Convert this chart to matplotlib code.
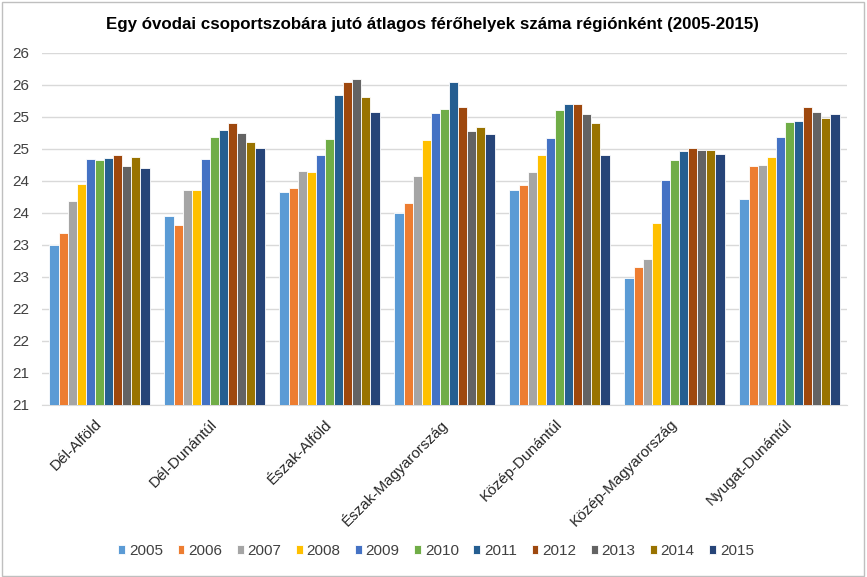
import numpy as np
import matplotlib
matplotlib.use("Agg")
import matplotlib.pyplot as plt
from matplotlib.patches import Rectangle

plt.rcParams['font.family'] = ['Liberation Sans', 'DejaVu Sans']

# Data
regions = ['Dél-Alföld', 'Dél-Dunántúl', 'Észak-Alföld', 'Észak-Magyarország',
           'Közép-Dunántúl', 'Közép-Magyarország', 'Nyugat-Dunántúl']
years = ['2005', '2006', '2007', '2008', '2009', '2010',
         '2011', '2012', '2013', '2014', '2015']

# one row per region, one column per year
values = [
    [23.00, 23.19, 23.68, 23.95, 24.34, 24.32, 24.35, 24.41, 24.23, 24.38, 24.20],
    [23.45, 23.31, 23.85, 23.85, 24.34, 24.68, 24.79, 24.91, 24.75, 24.61, 24.52],
    [23.83, 23.89, 24.16, 24.14, 24.41, 24.65, 25.35, 25.55, 25.59, 25.31, 25.08],
    [23.49, 23.65, 24.07, 24.64, 25.06, 25.12, 25.54, 25.16, 24.78, 24.84, 24.74],
    [23.85, 23.94, 24.14, 24.40, 24.67, 25.11, 25.20, 25.20, 25.05, 24.91, 24.40],
    [22.48, 22.65, 22.78, 23.34, 24.02, 24.33, 24.46, 24.52, 24.49, 24.48, 24.42],
    [23.72, 24.23, 24.24, 24.38, 24.68, 24.92, 24.93, 25.15, 25.08, 24.99, 25.05],
]

y_ticks = [20.5, 21, 21.5, 22, 22.5, 23, 23.5, 24, 24.5, 25, 25.5, 26]
y_ticklabels = ['21', '21', '22', '22', '23', '23', '24', '24', '25', '25', '26', '26']

colors = ['#5B9BD5', '#ED7D31', '#A5A5A5', '#FFC000', '#4472C4', '#70AD47',
          '#255E91', '#9E480E', '#636363', '#997300', '#264478']

title = 'Egy óvodai csoportszobára jutó átlagos férőhelyek száma régiónként (2005-2015)'

fig = plt.figure(figsize=(8.67, 5.77), dpi=100)
ax = fig.add_axes([42 / 867, 1 - 404.5 / 577, 805 / 867, 351.5 / 577])

vals = np.array(values)
x = np.arange(len(regions))
group_w = 0.87
bw = group_w / len(years)

for j, yr in enumerate(years):
    pos = x - group_w / 2 + bw * (j + 0.5)
    ax.bar(pos, vals[:, j] - 20.5, bottom=20.5, width=bw, color=colors[j],
           edgecolor='white', linewidth=0.6, label=yr, zorder=3)

ax.set_xlim(-0.5, len(regions) - 0.5)
ax.set_ylim(20.5, 26)
ax.set_yticks(y_ticks)
ax.set_yticklabels(y_ticklabels)
ax.yaxis.grid(True, color='#D9D9D9', linewidth=1, zorder=0)
ax.set_axisbelow(True)

for s in ['top', 'right', 'left']:
    ax.spines[s].set_visible(False)
ax.spines['bottom'].set_color('#D9D9D9')

ax.tick_params(axis='y', length=0, labelsize=11, labelcolor='#404040', pad=9)
ax.tick_params(axis='x', length=0, pad=9)
ax.set_xticks(x - 0.04)
ax.set_xticklabels(regions, rotation=45, ha='right', rotation_mode='anchor',
                   fontsize=11, color='#262626')

fig.text(0.499, 1 - 24 / 577, title, ha='center', va='center',
         fontsize=12.2, fontweight='bold', color='#000000')

leg = fig.legend(loc='center', bbox_to_anchor=(0.503, 1 - 551 / 577), ncol=len(years),
                 frameon=False, fontsize=11, handlelength=0.45, handleheight=0.45,
                 handletextpad=0.25, columnspacing=0.95, labelcolor='#404040')

# outer chart frame
fig.patches.append(Rectangle((0.002, 0.002), 0.994, 0.994, transform=fig.transFigure,
                             fill=False, edgecolor='#BFBFBF', linewidth=1))

fig.savefig('out.png', dpi=100, facecolor='white')
